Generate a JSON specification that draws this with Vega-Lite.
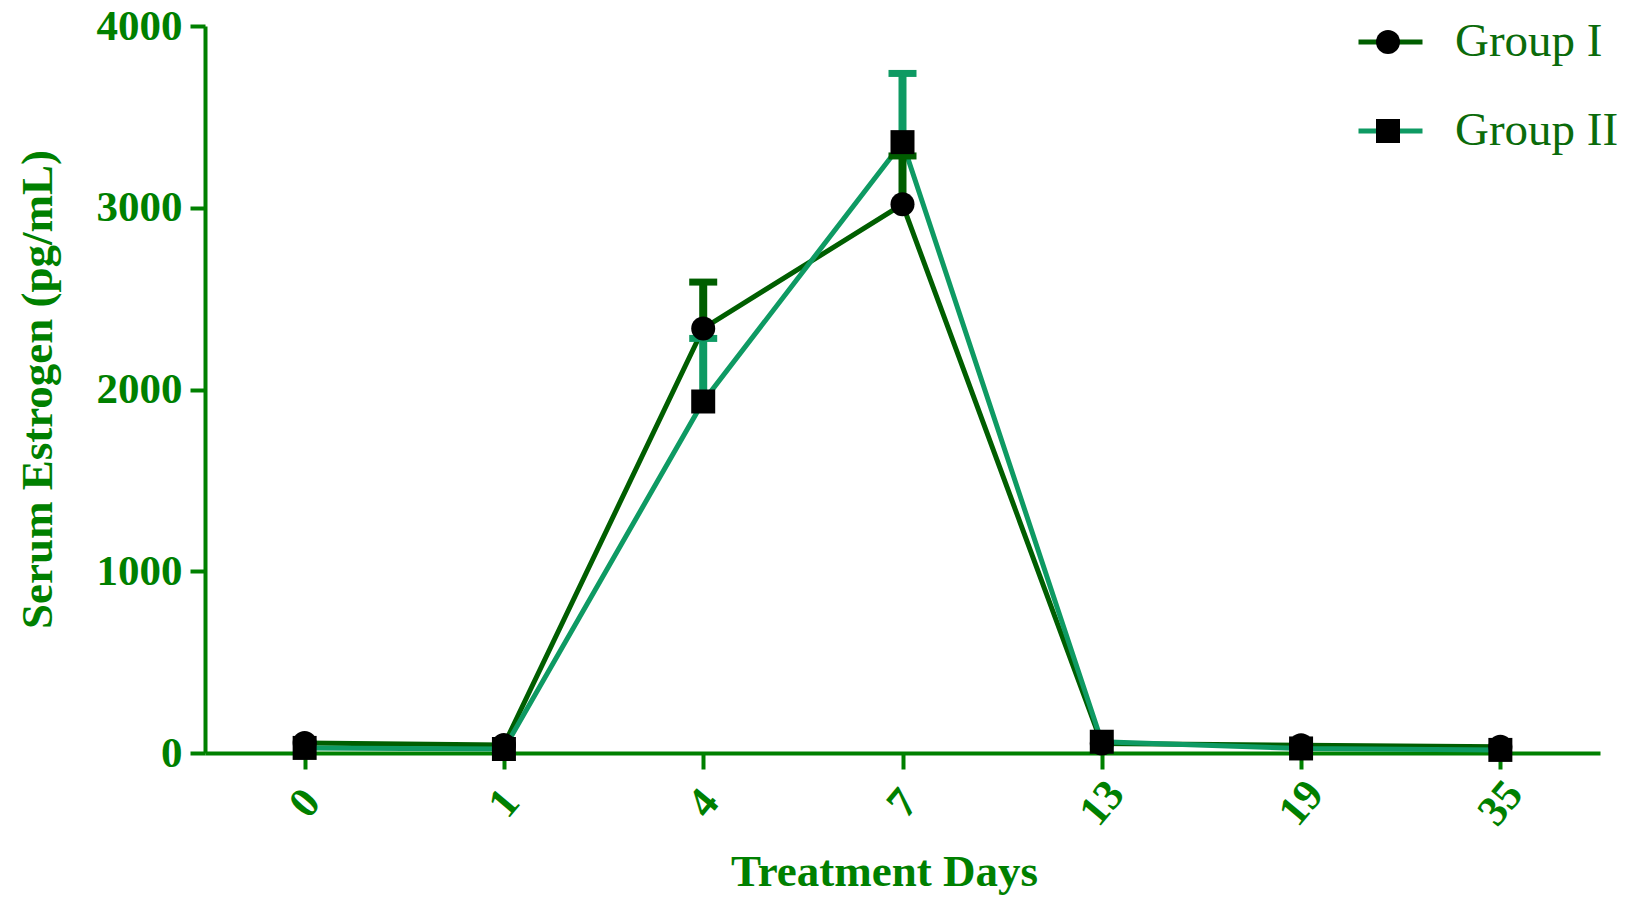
{
  "$schema": "https://vega.github.io/schema/vega-lite/v6.json",
  "width": 1395,
  "height": 727,
  "autosize": {"type": "none"},
  "padding": {"left": 205, "top": 26, "right": 35, "bottom": 145},
  "background": "white",
  "config": {
    "view": {"stroke": null},
    "axis": {
      "grid": false,
      "domainColor": "#008000",
      "domainWidth": 4,
      "tickColor": "#008000",
      "tickWidth": 4,
      "labelColor": "#008000",
      "titleColor": "#008000",
      "labelFont": "Liberation Serif",
      "titleFont": "Liberation Serif",
      "labelFontWeight": "bold",
      "titleFontWeight": "bold",
      "labelFontSize": 43,
      "titleFontSize": 45
    }
  },
  "data": {
    "values": [
      {"day": "0", "group": "Group I", "mean": 55},
      {"day": "1", "group": "Group I", "mean": 44},
      {"day": "4", "group": "Group I", "mean": 2336, "upper": 2591},
      {"day": "7", "group": "Group I", "mean": 3019, "upper": 3285},
      {"day": "13", "group": "Group I", "mean": 52},
      {"day": "19", "group": "Group I", "mean": 43},
      {"day": "35", "group": "Group I", "mean": 35},
      {"day": "0", "group": "Group II", "mean": 28},
      {"day": "1", "group": "Group II", "mean": 22},
      {"day": "4", "group": "Group II", "mean": 1934, "upper": 2281},
      {"day": "7", "group": "Group II", "mean": 3361, "upper": 3739},
      {"day": "13", "group": "Group II", "mean": 62},
      {"day": "19", "group": "Group II", "mean": 25},
      {"day": "35", "group": "Group II", "mean": 17}
    ]
  },
  "encoding": {
    "x": {
      "field": "day",
      "type": "ordinal",
      "sort": ["0", "1", "4", "7", "13", "19", "35"],
      "scale": {"type": "point", "padding": 0.5},
      "axis": {
        "title": "Treatment Days",
        "labelAngle": -50,
        "labelAlign": "center",
        "labelBaseline": "middle",
        "labelPadding": 34,
        "tickSize": 16,
        "titleX": 679,
        "titleY": 118,
        "titleBaseline": "middle",
        "titleAlign": "center"
      }
    }
  },
  "layer": [
    {
      "mark": {"type": "line", "strokeWidth": 5},
      "encoding": {
        "y": {
          "field": "mean",
          "type": "quantitative",
          "scale": {"domain": [0, 4000], "nice": false},
          "axis": {
            "title": "Serum Estrogen (pg/mL)",
            "values": [0, 1000, 2000, 3000, 4000],
            "format": "d",
            "tickSize": 15,
            "labelPadding": 8,
            "titleX": -168,
            "titleY": 363,
            "titleAngle": -90,
            "titleBaseline": "middle",
            "titleAlign": "center"
          }
        },
        "color": {
          "field": "group",
          "type": "nominal",
          "scale": {"domain": ["Group I", "Group II"], "range": ["#005e00", "#0e9a63"]},
          "legend": {
            "title": null,
            "orient": "none",
            "legendX": 1151,
            "legendY": -14,
            "symbolType": "stroke",
            "symbolSize": 4096,
            "symbolStrokeWidth": 5,
            "labelFont": "Liberation Serif",
            "labelFontSize": 47,
            "labelColor": "#0b6b0b",
            "labelOffset": 30,
            "rowPadding": 29,
            "clipHeight": 60,
            "padding": 0,
            "labelLimit": 400
          }
        }
      }
    },
    {
      "transform": [{"filter": "isValid(datum.upper)"}],
      "mark": {"type": "rule", "strokeWidth": 8},
      "encoding": {
        "y": {"field": "mean", "type": "quantitative"},
        "y2": {"field": "upper"},
        "color": {"field": "group", "type": "nominal"}
      }
    },
    {
      "transform": [{"filter": "isValid(datum.upper)"}],
      "mark": {"type": "tick", "size": 28, "thickness": 7, "orient": "horizontal", "opacity": 1},
      "encoding": {
        "y": {"field": "upper", "type": "quantitative"},
        "color": {"field": "group", "type": "nominal"}
      }
    },
    {
      "mark": {"type": "point", "filled": true, "size": 576, "color": "black", "opacity": 1},
      "encoding": {
        "y": {"field": "mean", "type": "quantitative"},
        "shape": {
          "field": "group",
          "type": "nominal",
          "scale": {"range": ["circle", "square"]},
          "legend": {
            "title": null,
            "orient": "none",
            "legendX": 1171,
            "legendY": -14,
            "symbolSize": 576,
            "symbolFillColor": "black",
            "symbolStrokeColor": "black",
            "symbolStrokeWidth": 0,
            "symbolOpacity": 1,
            "labelExpr": "''",
            "labelFontSize": 10,
            "rowPadding": 29,
            "clipHeight": 60,
            "padding": 0
          }
        }
      }
    }
  ]
}
